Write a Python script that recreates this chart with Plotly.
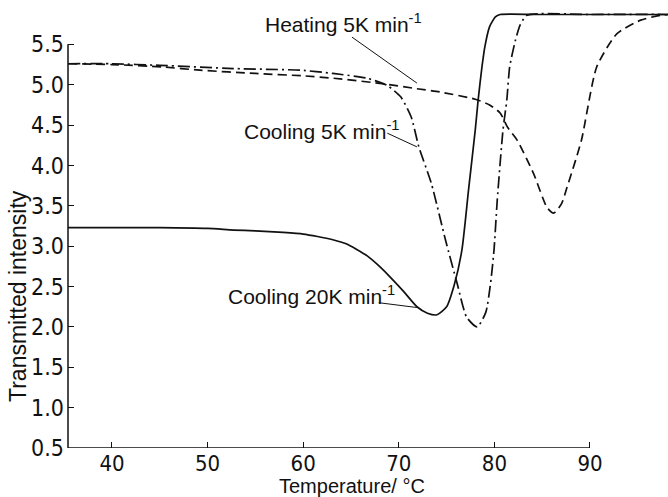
import plotly.graph_objects as go

# ---- data ----
cool20_x = [35.4, 40, 45, 50, 52.7, 55, 57.9, 60, 61.5, 63.1, 64.5, 65.6, 66.7, 67.7, 69.0, 70.5,
            71.9, 73.0, 74.0, 75.0, 75.8, 76.6, 77.3, 78.0, 78.3, 78.7, 79.0, 79.5, 80.1, 80.6,
            85, 90, 95, 98.2]
cool20_y = [3.23, 3.23, 3.23, 3.22, 3.20, 3.19, 3.17, 3.15, 3.12, 3.08, 3.03, 2.96, 2.88, 2.78, 2.63, 2.44,
            2.25, 2.17, 2.15, 2.25, 2.52, 2.95, 3.70, 4.44, 4.81, 5.22, 5.47, 5.72, 5.84, 5.87,
            5.87, 5.87, 5.87, 5.87]

cool5_x = [35.4, 40, 45, 52.7, 59.7, 63.1, 66.7, 68.8, 70.2, 71.3, 72.1, 73.4, 74.9, 76.1, 77.1,
           78.2, 79.1, 79.6, 79.96, 80.3, 80.9, 81.3, 81.6, 82.2, 82.7, 83.4, 90, 98.2]
cool5_y = [5.26, 5.26, 5.24, 5.20, 5.18, 5.14, 5.08, 4.99, 4.85, 4.60, 4.23, 3.78, 3.07, 2.54, 2.12,
           2.00, 2.18, 2.54, 2.95, 3.57, 4.44, 4.81, 5.22, 5.55, 5.74, 5.86, 5.87, 5.87]

heat5_x = [35.4, 40, 45.3, 49.2, 55, 60, 63.2, 68.5, 71.9, 74.3, 78.0, 79.5, 80.6, 81.4, 82.4, 84.1,
           85.5, 86.2, 87.0, 87.6, 89.1, 90.7, 92.8, 95.3, 97.4, 98.2]
heat5_y = [5.26, 5.25, 5.22, 5.18, 5.14, 5.11, 5.08, 5.01, 4.95, 4.91, 4.82, 4.75, 4.65, 4.47, 4.31, 3.90,
           3.48, 3.41, 3.52, 3.73, 4.31, 5.22, 5.63, 5.80, 5.86, 5.87]

x_ticks = [40, 50, 60, 70, 80, 90]
y_ticks = [0.5, 1.0, 1.5, 2.0, 2.5, 3.0, 3.5, 4.0, 4.5, 5.0, 5.5]
y_tick_labels = ["0.5", "1.0", "1.5", "2.0", "2.5", "3.0", "3.5", "4.0", "4.5", "5.0", "5.5"]

labels = ["Heating 5K min<sup>-1</sup>", "Cooling 5K min<sup>-1</sup>", "Cooling 20K min<sup>-1</sup>"]
label_pos = [(55.8, 5.76), (53.6, 4.44), (51.9, 2.39)]
leaders = [((65.1, 5.59), (71.9, 5.02)), ((68.8, 4.40), (71.9, 4.23)), ((67.9, 2.30), (71.9, 2.24))]

X_RANGE = [35.4, 98.16]
Y_RANGE = [0.5, 6.0]

TICK_FONT = "Liberation Sans Narrow, DejaVu Sans Condensed, Liberation Sans, sans-serif"
TEXT_FONT = "Liberation Sans, DejaVu Sans, sans-serif"
INK = "#111111"

fig = go.Figure()
fig.add_trace(go.Scatter(x=cool20_x, y=cool20_y, mode="lines", line=dict(color=INK, width=1.7, shape="spline", smoothing=0.6)))
fig.add_trace(go.Scatter(x=cool5_x, y=cool5_y, mode="lines",
                         line=dict(color=INK, width=1.7, shape="spline", smoothing=0.6, dash="12px,4px,2px,4px")))
fig.add_trace(go.Scatter(x=heat5_x, y=heat5_y, mode="lines",
                         line=dict(color=INK, width=1.7, shape="spline", smoothing=0.6, dash="9px,5px")))

shapes = [
    dict(type="line", xref="x", yref="y", x0=X_RANGE[0], x1=x_ticks[-1], y0=Y_RANGE[0], y1=Y_RANGE[0],
         line=dict(color=INK, width=1.5)),
    dict(type="line", xref="paper", yref="y", x0=0, x1=0, y0=Y_RANGE[0], y1=y_ticks[-1],
         line=dict(color=INK, width=1.5)),
]
for (a, b) in leaders:
    shapes.append(dict(type="line", xref="x", yref="y", x0=a[0], y0=a[1], x1=b[0], y1=b[1],
                       line=dict(color=INK, width=1)))

annotations = []
for txt, (ax_, ay_) in zip(labels, label_pos):
    annotations.append(dict(x=ax_, y=ay_, xref="x", yref="y", text=txt, showarrow=False,
                            xanchor="left", yanchor="middle", font=dict(family=TEXT_FONT, size=21, color=INK)))
annotations.append(dict(x=(18 - 68) / 600, y=152 / 444, xref="paper", yref="paper", text="Transmitted intensity",
                        textangle=-90, showarrow=False, xanchor="center", yanchor="middle",
                        font=dict(family=TEXT_FONT, size=23, color=INK)))
annotations.append(dict(x=(352 - 68) / 600, y=(448 - 486) / 444, xref="paper", yref="paper",
                        text="Temperature/ °C", showarrow=False, xanchor="center", yanchor="middle",
                        font=dict(family=TEXT_FONT, size=20, color=INK)))

fig.update_layout(
    width=668, height=497,
    margin=dict(l=68, r=0, t=4, b=49, autoexpand=False),
    paper_bgcolor="white", plot_bgcolor="white",
    showlegend=False,
    shapes=shapes, annotations=annotations,
    xaxis=dict(range=X_RANGE, tickvals=x_ticks, ticks="inside", ticklen=6, tickwidth=1.2, tickcolor=INK,
               showline=False, showgrid=False, zeroline=False,
               tickfont=dict(family=TICK_FONT, size=22, color=INK)),
    yaxis=dict(range=Y_RANGE, tickvals=y_ticks, ticktext=y_tick_labels, ticks="inside", ticklen=6,
               tickwidth=1.2, tickcolor=INK, showline=False, showgrid=False, zeroline=False,
               ticklabelstandoff=3,
               tickfont=dict(family=TICK_FONT, size=23, color=INK)),
)

fig.write_html("out.html")
